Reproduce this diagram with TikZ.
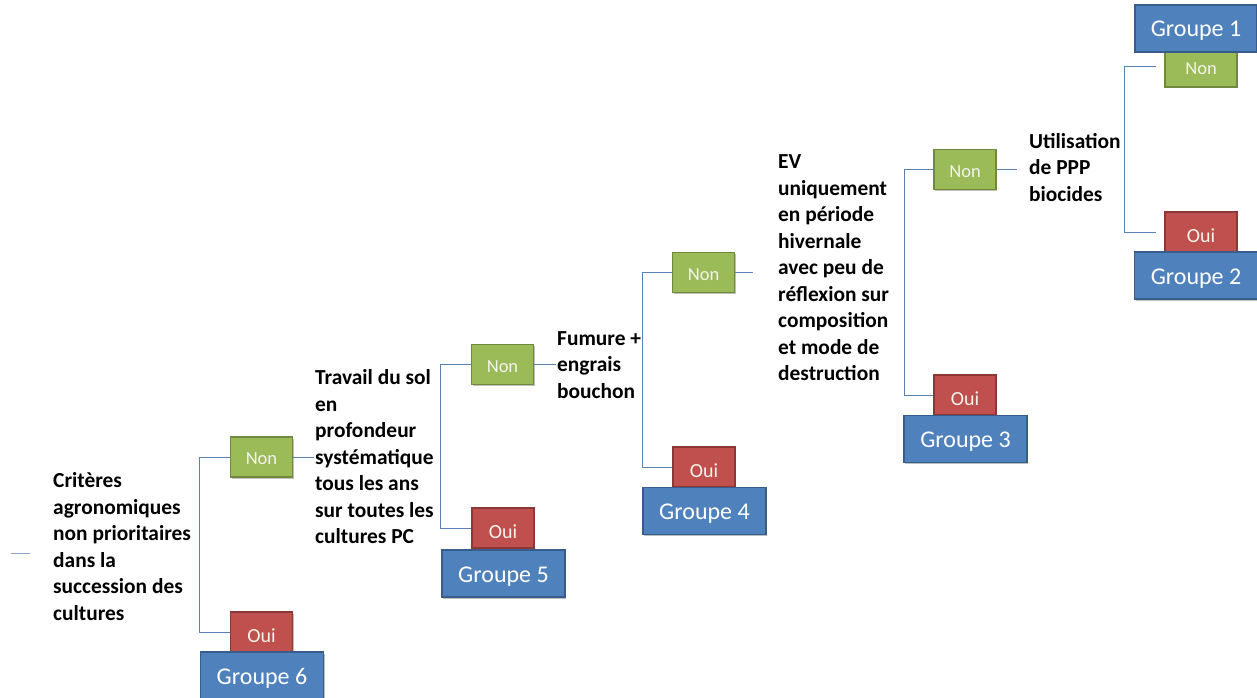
\documentclass[tikz,border=0pt]{standalone}
\usepackage{fontspec}
\usetikzlibrary{shadows}
\setmainfont{Carlito}
\definecolor{gfill}{HTML}{9BBB59}
\definecolor{gdraw}{HTML}{71893F}
\definecolor{rfill}{HTML}{C0504D}
\definecolor{rdraw}{HTML}{8C3836}
\definecolor{bfill}{HTML}{4F81BD}
\definecolor{bdraw}{HTML}{385D8A}
\definecolor{linec}{HTML}{5A7FB5}
\definecolor{boxtext}{HTML}{F4F4EC}
\begin{document}
\begin{tikzpicture}[x=1pt,y=-1pt,
  box/.style={rectangle, line width=1.6pt, text=boxtext, inner sep=0pt, anchor=center,
    drop shadow={shadow xshift=1pt, shadow yshift=-1.5pt, opacity=0.25, fill=black}},
  nonbox/.style={box, fill=gfill, draw=gdraw, minimum width=62pt, minimum height=40pt,
    text height=15pt, text depth=0pt, font=\fontsize{18.5}{20}\selectfont},
  ouibox/.style={box, fill=rfill, draw=rdraw, minimum width=62pt, minimum height=40pt,
    text height=20pt, text depth=0pt, font=\fontsize{20}{22}\selectfont},
  grpbox/.style={box, fill=bfill, draw=bdraw, minimum width=123pt, minimum height=47pt,
    text height=17pt, text depth=0pt, text=white, font=\fontsize{24}{26}\selectfont},
  question/.style={anchor=west, align=left, inner sep=1pt, text=black, font=\fontsize{21.4}{26.5}\selectfont\bfseries},
  conn/.style={draw=linec, line width=1pt}
]
\useasboundingbox (0,0) rectangle (1257,698);

% decision texts
\node[question] (d1) at (52,546.5) {Critères\\agronomiques\\non prioritaires\\dans la\\succession des\\cultures};
\node[question] (d2) at (314,457) {Travail du sol\\en\\profondeur\\systématique\\tous les ans\\sur toutes les\\cultures PC};
\node[question] (d3) at (556,365) {Fumure +\\engrais\\bouchon};
\node[question] (d4) at (777,268) {EV\\uniquement\\en période\\hivernale\\avec peu de\\réflexion sur\\composition\\et mode de\\destruction};
\node[question] (d5) at (1028,167.5) {Utilisation\\de PPP\\biocides};

% Non / Oui boxes
\node[nonbox] (n1) at (261.5,457) {Non};
\node[ouibox] (o1) at (261.5,632) {Oui};
\node[nonbox] (n2) at (502.5,364.5) {Non};
\node[ouibox] (o2) at (503,528) {Oui};
\node[nonbox] (n3) at (703.5,272.5) {Non};
\node[ouibox] (o3) at (704,467) {Oui};
\node[nonbox] (n4) at (965,169.5) {Non};
\node[ouibox] (o4) at (965,395) {Oui};
\node[nonbox, minimum width=72pt] (n5) at (1201,67) {Non};
\node[ouibox, minimum width=72pt] (o5) at (1201,232) {Oui};

% group boxes (drawn over the answer boxes)
\node[grpbox] (g6) at (262,675.5) {Groupe 6};
\node[grpbox] (g5) at (503.5,573.5) {Groupe 5};
\node[grpbox] (g4) at (704.5,511) {Groupe 4};
\node[grpbox] (g3) at (965.5,439) {Groupe 3};
\node[grpbox] (g2) at (1196,275.5) {Groupe 2};
\node[grpbox, minimum width=122pt] (g1) at (1196,28.5) {Groupe 1};

% lead-in stub
\coordinate (s0) at (11,553);
\coordinate (s1) at (30,553);
\draw[conn, draw=linec!70] (s0) -- (s1);

% brackets
\draw[conn] (n1.west) -- ++(-30,0) |- (o1.west);
\draw[conn] (n2.west) -- ++(-30,0) |- (o2.west);
\draw[conn] (n3.west) -- ++(-29,0) |- (o3.west);
\draw[conn] (n4.west) -- ++(-29,0) |- (o4.west);
\draw[conn, shorten <=8pt, shorten >=8pt] (n5.west) -- ++(-40,0) |- (o5.west);

% Non -> next question
\draw[conn] (n1.east) -- (d2.west);
\draw[conn] (n2.east) -- (n2.east -| d3.west);
\draw[conn, shorten >=24pt] (n3.east) -- (n3.east -| d4.west);
\draw[conn, shorten >=11pt] (n4.east) -- (n4.east -| d5.west);
\end{tikzpicture}
\end{document}
